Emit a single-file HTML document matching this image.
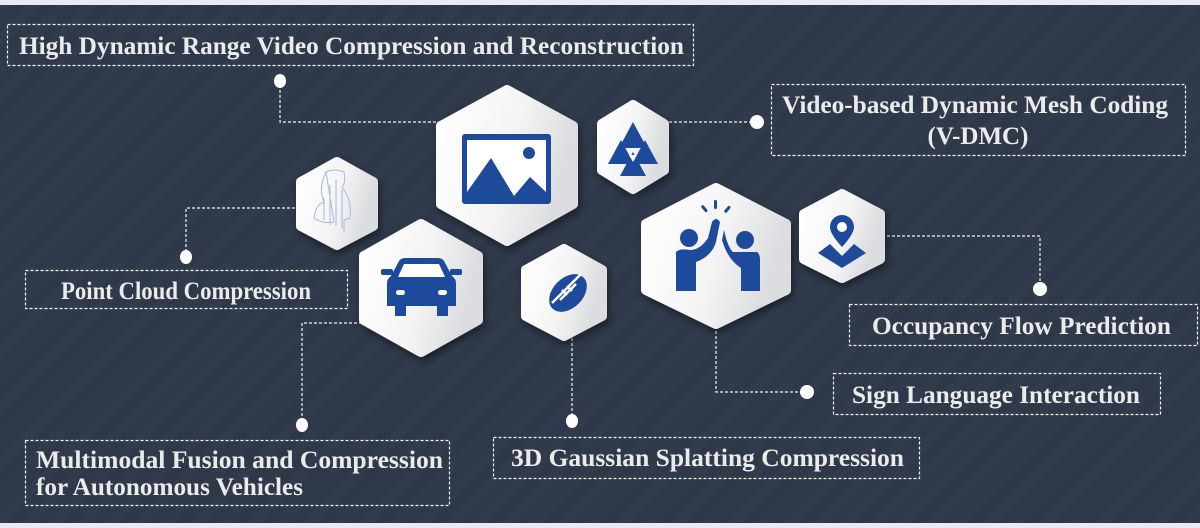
<!DOCTYPE html>
<html><head><meta charset="utf-8"><style>
html,body{margin:0;padding:0;width:1200px;height:528px;overflow:hidden;background:#e8eaee}
#bg{position:absolute;left:0;top:5px;width:1200px;height:518px;background:#2f394a;
background-image:repeating-linear-gradient(135deg,rgba(255,255,255,0.012) 0 10px,rgba(0,0,0,0.015) 10px 20px)}
svg{position:absolute;left:0;top:0}
text{font-family:"Liberation Serif",serif;font-weight:bold;fill:#ebebeb;font-size:25px}
</style></head><body>
<div id="bg"></div>
<svg width="1200" height="528" viewBox="0 0 1200 528">
<defs>
<linearGradient id="g" x1="0" y1="0" x2="1" y2="0.3">
<stop offset="0" stop-color="#ffffff"/><stop offset="0.6" stop-color="#f4f4f5"/><stop offset="1" stop-color="#dcdde0"/></linearGradient>
<filter id="sh" x="-30%" y="-30%" width="160%" height="160%"><feDropShadow dx="2" dy="4" stdDeviation="4" flood-color="#000" flood-opacity="0.45"/></filter>
</defs>
<g fill="none" stroke="#f2f2f2" stroke-width="1.2" stroke-dasharray="3,2">
<rect x="7.5" y="24.5" width="686" height="41"/>
<rect x="771.5" y="84.5" width="414" height="71"/>
<rect x="25.5" y="270.5" width="322" height="38"/>
<rect x="849.5" y="304.5" width="348" height="41"/>
<rect x="833.5" y="373.5" width="327" height="41"/>
<rect x="25.5" y="440.5" width="424" height="65"/>
<rect x="493.5" y="437.5" width="426" height="41"/>
<polyline points="280,80 280,122 440,122"/>
<polyline points="757,122 665,122"/>
<polyline points="300,208 186,208 186,257"/>
<polyline points="362,323 302,323 302,425"/>
<polyline points="572,338 572,421"/>
<polyline points="716,326 716,392 807,392"/>
<polyline points="882,236 1040,236 1040,289"/>
</g>
<g fill="#fff">
<ellipse cx="280" cy="81" rx="6" ry="7"/><ellipse cx="757" cy="122" rx="7" ry="7"/>
<ellipse cx="186" cy="257" rx="6" ry="7"/><ellipse cx="302" cy="425" rx="6" ry="7"/>
<ellipse cx="572" cy="421" rx="6" ry="7"/><ellipse cx="807" cy="392" rx="7" ry="7"/>
<ellipse cx="1040" cy="289" rx="7" ry="7"/>
</g>
<g fill="url(#g)" stroke="url(#g)" stroke-width="10" stroke-linejoin="round" filter="url(#sh)">
<polygon points="507,90 573,126 573,204 507,241 441,204 441,126"/>
<polygon points="633,105 664,124 664,170 633,189 602,170 602,124"/>
<polygon points="337,162 373,182 373,226 337,245 301,226 301,182"/>
<polygon points="421,224 478,256 478,320 421,352 364,320 364,256"/>
<polygon points="564,249 602,270 602,316 564,336 526,316 526,270"/>
<polygon points="716,188 786,224 786,290 716,324 646,290 646,224"/>
<polygon points="842,194 880,214 880,259 842,278 804,259 804,214"/>
</g>
<g fill="#1e4a9b">
<rect x="462" y="134" width="89" height="70" rx="3"/>
<rect x="467" y="140" width="79" height="58" fill="#fff"/>
<polygon points="467,192 491,158 514,196 530,177 546,192 546,198 467,198"/>
<circle cx="529" cy="153" r="6"/>
<polygon points="608,164 621,140 634,164"/><polygon points="632,164 645,140 658,164"/>
<polygon points="620,121 633,122 646,146 620,146" opacity="0"/>
<polygon points="633,122 647,148 619,148"/>
<polygon points="620,176 633,152 646,176"/>
<polygon points="629,155 637,155 633,162" fill="#fff"/>
<rect x="381" y="269" width="12" height="6" rx="2"/><rect x="450" y="269" width="12" height="6" rx="2"/>
<path d="M399,261 Q401,258 405,258 L438,258 Q442,258 444,261 L452,276 Q456,279 456,283 L456,306 L448,306 L448,316 L437,316 L437,306 L406,306 L406,316 L395,316 L395,306 L387,306 L387,283 Q387,279 391,276 Z"/>
<path d="M404,264 L439,264 L445,277 L398,277 Z" fill="#fff"/>
<rect x="396" y="290" width="9" height="5" rx="2.5" fill="#fff"/><rect x="438" y="290" width="9" height="5" rx="2.5" fill="#fff"/>
<ellipse cx="568" cy="293" rx="22" ry="15" transform="rotate(-45 568 293)"/>
<path d="M552,303 L581,274" stroke="#fff" stroke-width="2.5"/>
<path d="M560,300 L576,284 M562,290 L567,295 M567,286 L572,291" stroke="#fff" stroke-width="2.5"/>
<circle cx="689" cy="238" r="9"/><circle cx="745" cy="240" r="9"/>
<path d="M676,252 Q680,248 690,250 Q700,250 708,238 L712,222 Q716,216 720,222 L716,242 Q712,256 696,262 L696,291 L676,291 Z"/>
<path d="M733,252 L757,252 Q760,254 760,260 L760,291 L741,291 L741,268 Q728,260 722,240 L724,230 Q728,248 733,252 Z"/>
<rect x="714" y="200" width="3" height="9" rx="1.5"/>
<rect x="703" y="205" width="3" height="8" rx="1.5" transform="rotate(-40 704 209)"/>
<rect x="726" y="205" width="3" height="8" rx="1.5" transform="rotate(40 727 209)"/>
<path d="M842,215 a12,12 0 0 1 12,12 q0,7 -12,20 q-12,-13 -12,-20 a12,12 0 0 1 12,-12z"/>
<circle cx="842" cy="227" r="5" fill="#fff"/>
<polygon points="818,253 830,244 842,256 854,244 866,253 842,268"/>
</g>
<g fill="none" stroke="#9fb2d8" stroke-width="1" opacity="0.9">
<path d="M326,172 q8,-4 18,0 q2,10 -2,16 q10,10 8,30 l-6,2 l0,12 m-10,-10 q-12,2 -20,-4 q2,-14 10,-16 q-6,-14 2,-30z"/>
<path d="M330,185 l0,40 M336,180 l0,46 M342,190 l0,38 M324,198 l0,22"/>
</g>
<text x="19" y="54" textLength="665" lengthAdjust="spacingAndGlyphs">High Dynamic Range Video Compression and Reconstruction</text>
<text x="782" y="113" textLength="386" lengthAdjust="spacingAndGlyphs">Video-based Dynamic Mesh Coding</text>
<text x="978" y="144" text-anchor="middle">(V-DMC)</text>
<text x="61" y="299" textLength="250" lengthAdjust="spacingAndGlyphs">Point Cloud Compression</text>
<text x="872" y="334" textLength="299" lengthAdjust="spacingAndGlyphs">Occupancy Flow Prediction</text>
<text x="852" y="403" textLength="288" lengthAdjust="spacingAndGlyphs">Sign Language Interaction</text>
<text x="36" y="468" textLength="407" lengthAdjust="spacingAndGlyphs">Multimodal Fusion and Compression</text>
<text x="36" y="495" textLength="267" lengthAdjust="spacingAndGlyphs">for Autonomous Vehicles</text>
<text x="511" y="466" textLength="393" lengthAdjust="spacingAndGlyphs">3D Gaussian Splatting Compression</text>
</svg>
</body></html>
